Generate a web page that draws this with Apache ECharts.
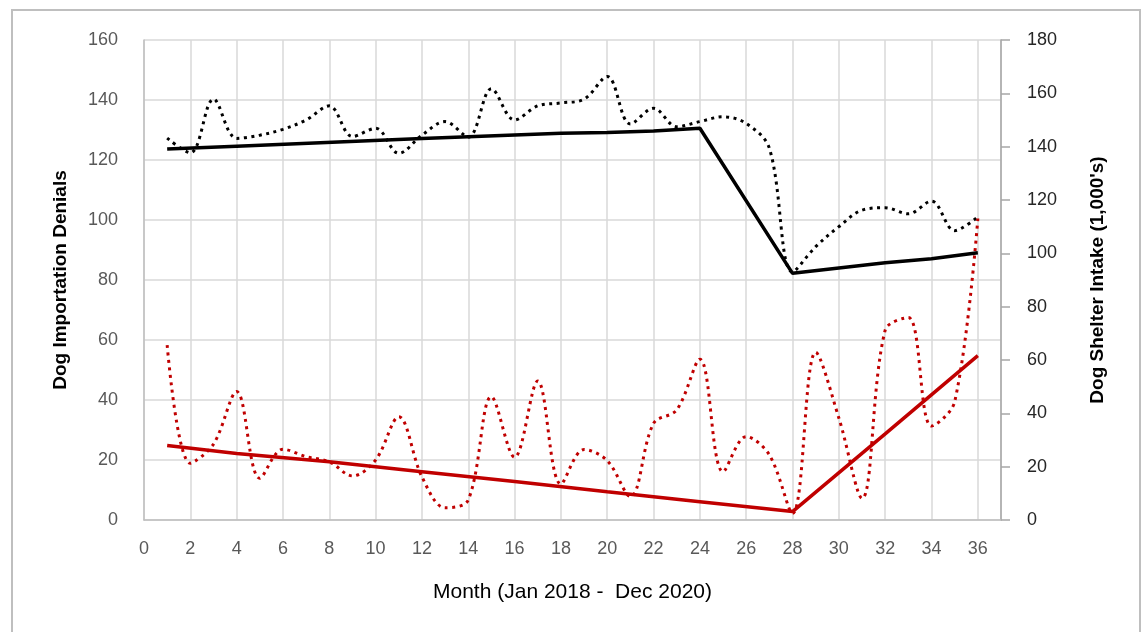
<!DOCTYPE html>
<html>
<head>
<meta charset="utf-8">
<script src="https://cdn.jsdelivr.net/npm/echarts@6/dist/echarts.min.js"></script>
<style>
html,body{margin:0;padding:0;background:#fff;}
#chart{width:1145px;height:632px;}
</style>
</head>
<body>
<div id="chart"></div>
<script>
const months = [1,2,3,4,5,6,7,8,9,10,11,12,13,14,15,16,17,18,19,20,21,22,23,24,25,26,27,28,29,30,31,32,33,34,35,36];
const xTicks = [0,2,4,6,8,10,12,14,16,18,20,22,24,26,28,30,32,34,36];
const leftTicks = [0,20,40,60,80,100,120,140,160];
const rightTicks = [0,20,40,60,80,100,120,140,160,180];

// Dog importation denials (left axis)
const denials = [58.3,18.9,25.3,42.8,13.9,23.6,21.1,19.4,14.7,20,34.4,14.4,4.1,6.7,41.1,20.9,46.3,12,23.5,19.8,7.8,32.2,36.7,53.6,16.1,27.8,21.7,2.2,55.9,34,7.2,63.3,67.5,31.3,39.4,100.5];
// Denials trend (segmented) - months and values
const denialTrendMonths = [1,4,8,12,16,20,24,28,32,36];
const denialTrend = [24.8,22.2,19.4,16.1,12.8,9.4,6.1,2.8,28.7,54.8];

// Dog shelter intake, 1,000's (right axis)
const intake = [143.2,137.7,157.8,143.1,144.3,146.5,150,155.3,143.8,146.9,137.5,144.3,149.4,143.6,161.7,150,155.3,156.4,157.8,166.3,148.5,154.4,147.5,149.4,151.2,148.7,139.4,93,102.5,110,116.2,117.1,114.8,119.6,108.5,113.7];
const intakeTrendMonths = [1,4,12,18,20,22,24,28,32,34,36];
const intakeTrend = [139.1,140.2,143.1,145,145.3,145.9,146.9,92.5,96.5,98,100.2];

const pairs = (xs, ys) => xs.map((x, i) => [x, ys[i]]);

const FONT = '"Liberation Sans", Arial, sans-serif';
const chart = echarts.init(document.getElementById('chart'), null, {renderer: 'canvas'});
chart.setOption({
  animation: false,
  backgroundColor: '#fff',
  graphic: [{
    type: 'rect',
    shape: {x: 12, y: 10, width: 1128, height: 640},
    style: {fill: 'none', stroke: '#bfbfbf', lineWidth: 2},
    silent: true
  }],
  grid: {left: 144, right: 144, top: 40, bottom: 112, containLabel: false},
  xAxis: {
    type: 'value',
    min: 0, max: 37, interval: 2,
    name: 'Month (Jan 2018 -  Dec 2020)',
    nameLocation: 'middle',
    nameGap: 62,
    nameTextStyle: {fontFamily: FONT, fontSize: 21, color: '#000'},
    axisLine: {show: true, lineStyle: {color: '#bfbfbf', width: 1.5}},
    axisTick: {show: false},
    axisLabel: {
      fontFamily: FONT, fontSize: 18, color: '#595959', margin: 20,
      showMaxLabel: false,
      formatter: v => xTicks.indexOf(v) >= 0 ? String(v) : ''
    },
    splitLine: {show: true, lineStyle: {color: '#d9d9d9', width: 1.5}}
  },
  yAxis: [{
    type: 'value',
    min: 0, max: 160, interval: 20,
    name: 'Dog Importation Denials',
    nameLocation: 'middle',
    nameGap: 74,
    nameRotate: 90,
    nameTextStyle: {fontFamily: FONT, fontSize: 19, fontWeight: 'bold', color: '#000'},
    axisLine: {show: true, lineStyle: {color: '#bfbfbf', width: 1.5}},
    axisTick: {show: false},
    axisLabel: {fontFamily: FONT, fontSize: 18, color: '#595959', margin: 26,
      formatter: v => leftTicks.indexOf(v) >= 0 ? String(v) : ''},
    splitLine: {show: true, lineStyle: {color: '#d9d9d9', width: 1.5}}
  }, {
    type: 'value',
    min: 0, max: 180, interval: 20,
    position: 'right',
    name: "Dog Shelter Intake (1,000's)",
    nameLocation: 'middle',
    nameGap: 87,
    nameRotate: 90,
    nameTextStyle: {fontFamily: FONT, fontSize: 19, fontWeight: 'bold', color: '#000'},
    axisLine: {show: true, lineStyle: {color: '#a6a6a6', width: 1.5}},
    axisTick: {show: true, inside: false, length: 9, lineStyle: {color: '#a6a6a6', width: 1.5}},
    axisLabel: {fontFamily: FONT, fontSize: 18, color: '#262626', margin: 26,
      formatter: v => rightTicks.indexOf(v) >= 0 ? String(v) : ''},
    splitLine: {show: false}
  }],
  series: [{
    name: 'Intake',
    type: 'line',
    yAxisIndex: 1,
    data: pairs(months, intake),
    smooth: 0.35,
    showSymbol: false,
    lineStyle: {color: '#000', width: 3, type: [3, 4.5]},
    z: 3
  }, {
    name: 'Intake trend',
    type: 'line',
    yAxisIndex: 1,
    data: pairs(intakeTrendMonths, intakeTrend),
    showSymbol: false,
    lineStyle: {color: '#000', width: 3.5},
    z: 4
  }, {
    name: 'Denials',
    type: 'line',
    yAxisIndex: 0,
    data: pairs(months, denials),
    smooth: 0.35,
    showSymbol: false,
    lineStyle: {color: '#c00000', width: 3, type: [3, 4.5]},
    z: 3
  }, {
    name: 'Denials trend',
    type: 'line',
    yAxisIndex: 0,
    data: pairs(denialTrendMonths, denialTrend),
    showSymbol: false,
    lineStyle: {color: '#c00000', width: 3.5},
    z: 4
  }]
});
</script>
</body>
</html>
